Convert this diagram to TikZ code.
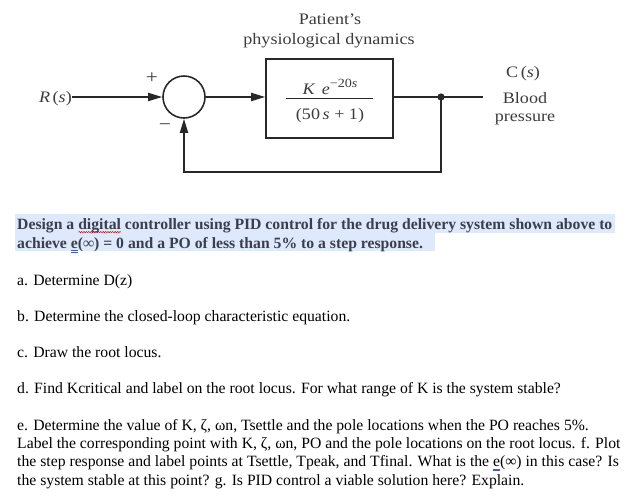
\documentclass[tikz,border=0pt]{standalone}
\usepackage{fontspec}
\setmainfont{Liberation Serif}
\newfontfamily\dgfont[FakeStretch=1.13]{Liberation Serif}
\usetikzlibrary{arrows.meta,decorations.pathmorphing}
\definecolor{hl}{RGB}{222,233,251}
\definecolor{ttl}{RGB}{58,63,78}
\definecolor{dg}{RGB}{40,40,40}
\definecolor{dgt}{RGB}{60,60,60}
\definecolor{ulblue}{RGB}{60,90,220}
\newlength\ulw
\newcommand\wavy[1]{\settowidth\ulw{#1}\rlap{\tikz[baseline=0pt]\draw[red!85!black,line width=0.45pt,decorate,decoration={snake,amplitude=0.7pt,segment length=2.4pt}] (0pt,-2.6pt) -- (\ulw,-2.6pt);}#1}
\newcommand\dul[1]{\settowidth\ulw{#1}\rlap{\color{ulblue}\rule[-2.4pt]{\ulw}{0.55pt}}\rlap{\color{ulblue}\rule[-4.2pt]{\ulw}{0.55pt}}#1}
\begin{document}
\begin{tikzpicture}[x=1pt,y=-1pt,
  dtext/.style={font=\dgfont\fontsize{16}{18}\selectfont, text=dgt, inner sep=0pt, anchor=base},
  sign/.style={font=\dgfont\fontsize{19}{20}\selectfont, text=dgt, inner sep=0pt},
  body/.style={font=\fontsize{15.7}{18.4}\selectfont, inner sep=0pt, anchor=base west},
  title/.style={body, font=\bfseries\fontsize{15.7}{18.4}\selectfont, text=ttl},
  wire/.style={draw=dg, line width=1.9pt},
  arr/.style={wire, -{Triangle[length=14pt,width=8pt]}},
  blk/.style={draw=dg, line width=1.6pt, minimum width=127pt, minimum height=79pt, inner sep=0pt},
  sumc/.style={circle, draw=dg, line width=1.6pt, minimum size=42pt, inner sep=0pt}
]
\useasboundingbox[fill=white] (0,0) rectangle (628,496);

% ---------- block diagram ----------
\node[dtext] (pat) at (330,24) {Patient’s};
\node[dtext] (phys) at (329,44) {physiological dynamics};
\node[blk] (plant) at (329.5,98.5) {};
\node[sumc] (sum) at (184,97) {};
\node[dtext, anchor=base east] (R) at (72,102) {\textit{R}\,(\textit{s})};
\node[sign] (plus) at (152,78) {+};
\node[sign] (minus) at (165,127) {−};
\node[dtext] (num) at (330,94) {\textit{K\, e}\raisebox{7pt}{\fontsize{12.5}{13}\selectfont −20\textit{s}}};
\node[dtext] (den) at (330,119) {(50\,\textit{s} + 1)};
\draw[dg, line width=1pt] (286,98) -- (373,98);
\coordinate (tap) at (441,97);
\coordinate (outend) at (483,97);
\coordinate (fbr) at (441,172);
\node[dtext] (cs) at (523,77) {C\,(\textit{s})};
\node[dtext] (blood) at (525,103) {Blood};
\node[dtext] (press) at (525,121) {pressure};

\draw[arr] (R.east |- sum.west) -- (sum.west);
\draw[arr] (sum.east) -- (plant.west |- sum.east);
\draw[wire] (plant.east |- tap) -- (outend);
\draw[arr] (tap) -- (fbr) -| (sum.south);
\fill[dg] (tap) circle (3.6);

% ---------- text ----------
\fill[hl] (15,214) rectangle (615,232.5);
\fill[hl] (15,232.5) rectangle (435,251);
\node[title] (t1) at (17,229.5) {Design a \wavy{digital} controller using PID control for the drug delivery system shown above to};
\node[title] (t2) at (17,248.5) {achieve \dul{e}(∞) = 0 and a PO of less than 5\% to a step response.};
\node[body] (qa) at (17,285) {a. Determine D(z)};
\node[body] (qb) at (17,321.5) {b. Determine the closed-loop characteristic equation.};
\node[body] (qc) at (17,357.5) {c. Draw the root locus.};
\node[body] (qd) at (17,393.5) {d. Find Kcritical and label on the root locus. For what range of K is the system stable?};
\node[body] (qe1) at (17,430) {e. Determine the value of K, ζ, ωn, Tsettle and the pole locations when the PO reaches 5\%.};
\node[body] (qe2) at (17,448.4) {Label the corresponding point with K, ζ, ωn, PO and the pole locations on the root locus. f. Plot};
\node[body] (qe3) at (17,466.8) {the step response and label points at Tsettle, Tpeak, and Tfinal. What is the \dul{e}(∞) in this case? Is};
\node[body] (qe4) at (17,485.2) {the system stable at this point? g. Is PID control a viable solution here? Explain.};
\end{tikzpicture}
\end{document}
